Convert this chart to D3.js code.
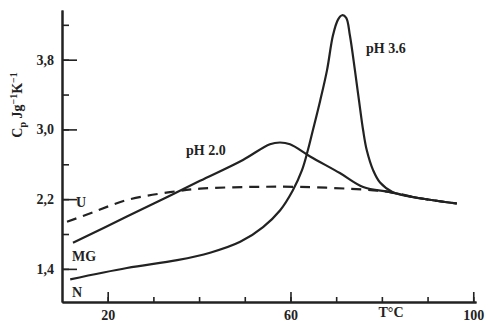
<!DOCTYPE html>
<html>
<head>
<meta charset="utf-8">
<script src="https://cdn.jsdelivr.net/npm/d3@7"></script>
<style>
  body { margin: 0; background: #fff; }
  text { font-family: "Liberation Serif", serif; font-weight: bold; fill: #222; }
</style>
</head>
<body>
<script>
// données (T en °C, Cp en J g-1 K-1)
const tempN = [11.8, 24.2, 35.2, 42.4, 49.0, 54.0, 57.7, 60.5, 62.5, 63.8, 64.9, 66.5, 68.0, 69.3, 70.4, 71.3, 72.2, 73.0, 74.1, 75.0, 75.9, 76.7, 78.1, 79.6, 82.4, 88.3, 96.4];
const cpN   = [1.28, 1.41, 1.50, 1.585, 1.71, 1.88, 2.07, 2.30, 2.53, 2.76, 2.99, 3.33, 3.68, 4.08, 4.26, 4.31, 4.28, 4.08, 3.68, 3.33, 2.99, 2.76, 2.53, 2.39, 2.28, 2.21, 2.15];

const tempMG = [12.4, 24.2, 33.6, 40.2, 49.6, 55.5, 57.7, 59.9, 64.3, 70.8, 75.9, 81.8, 88.3, 96.4];
const cpMG   = [1.70, 2.00, 2.24, 2.41, 2.65, 2.83, 2.85, 2.83, 2.69, 2.50, 2.34, 2.28, 2.21, 2.15];

const tempU = [11.1, 16.8, 24.2, 33.6, 40.2, 51.1, 62.1, 75.9, 81.8, 88.3, 96.4];
const cpU   = [1.94, 2.05, 2.19, 2.28, 2.32, 2.34, 2.34, 2.31, 2.28, 2.21, 2.15];

const xTicks = [20, 30, 40, 50, 60, 70, 80, 90, 100];
const xLabels = [20, 60, 100];
const yTicks = [1.4, 1.8, 2.2, 2.6, 3.0, 3.4, 3.8, 4.2];
const yLabels = [1.4, 2.2, 3.0, 3.8];

const width = 488;
const height = 331;

const svg = d3.select("body").append("svg")
    .attr("width", width)
    .attr("height", height);

const x = d3.scaleLinear().domain([10, 100.6]).range([62, 476]);
const y = d3.scaleLinear().domain([1.02, 4.37]).range([302, 10]);

const virgule = d => d.toFixed(1).replace(".", ",");

// axe des x : petits traits puis traits marqués
svg.append("g").attr("transform", "translate(0,302)")
    .call(d3.axisBottom(x).tickValues(xTicks).tickSizeInner(-5).tickSizeOuter(0).tickFormat(""));
svg.append("g").attr("transform", "translate(0,302)")
    .call(d3.axisBottom(x).tickValues(xLabels).tickSizeInner(-10).tickSizeOuter(0).tickPadding(8).tickFormat(d3.format("d")));

// axe des y
svg.append("g").attr("transform", "translate(62,0)")
    .call(d3.axisLeft(y).tickValues(yTicks).tickSizeInner(-7).tickSizeOuter(0).tickFormat(""));
svg.append("g").attr("transform", "translate(62,0)")
    .call(d3.axisLeft(y).tickValues(yLabels).tickSizeInner(-15).tickSizeOuter(0).tickPadding(8).tickFormat(virgule));

svg.selectAll(".domain").attr("stroke", "#222").attr("stroke-width", 2);
svg.selectAll(".tick line").attr("stroke", "#222").attr("stroke-width", 1.6);
svg.selectAll(".tick text").style("font-size", "14px").attr("fill", "#222");

const line = d3.line()
    .x(d => x(d[0]))
    .y(d => y(d[1]))
    .curve(d3.curveCatmullRom.alpha(0.5));

const courbes = [
  { t: tempU, c: cpU, dash: "10,7" },
  { t: tempMG, c: cpMG, dash: null },
  { t: tempN, c: cpN, dash: null }
];

courbes.forEach(k => {
  svg.append("path")
      .datum(d3.zip(k.t, k.c))
      .attr("d", line)
      .attr("fill", "none")
      .attr("stroke", "#222")
      .attr("stroke-width", 2.2)
      .attr("stroke-dasharray", k.dash);
});

// étiquettes
const lab = (t, tx, ty, anchor) => svg.append("text")
    .attr("x", tx).attr("y", ty)
    .attr("text-anchor", anchor || "start")
    .style("font-size", "14px")
    .text(t);

lab("U", 76, 207);
lab("MG", 72, 261);
lab("N", 72, 297);
lab("pH 2.0", 186, 155);
lab("pH 3.6", 366, 53);
lab("T°C", x(82), 317, "middle");

// titre de l'axe y
const yt = svg.append("text")
    .attr("transform", "translate(22,105) rotate(-90)")
    .attr("text-anchor", "middle")
    .style("font-size", "14px");
yt.append("tspan").text("C");
yt.append("tspan").attr("dy", 4).style("font-size", "10px").text("p");
yt.append("tspan").attr("dy", -4).text(" Jg");
yt.append("tspan").attr("dy", -5).style("font-size", "10px").text("−1");
yt.append("tspan").attr("dy", 5).text("K");
yt.append("tspan").attr("dy", -5).style("font-size", "10px").text("−1");
</script>
</body>
</html>
